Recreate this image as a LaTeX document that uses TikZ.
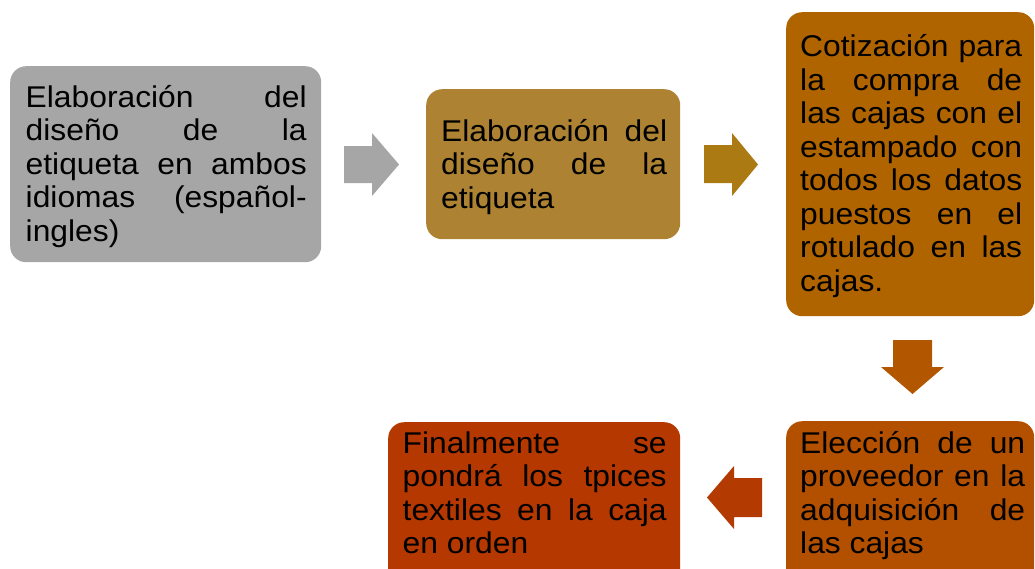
\documentclass[tikz,border=0pt]{standalone}
\usepackage{fontspec}
\setmainfont{Liberation Sans}[FakeStretch=1.06]
\definecolor{cGray}{HTML}{A6A6A6}
\definecolor{cGold}{HTML}{AD8232}
\definecolor{cGoldA}{HTML}{AB7A13}
\definecolor{cOrange}{HTML}{B06400}
\definecolor{cOrangeA}{HTML}{B25600}
\definecolor{cRust}{HTML}{B35000}
\definecolor{cRed}{HTML}{B43800}
\definecolor{cRedA}{HTML}{B33A00}
\hbadness=10000
\hfuzz=5pt
\begin{document}
\begin{tikzpicture}[x=1pt,y=-1pt,
  box/.style={rectangle, rounded corners=16pt, draw=none, inner sep=0pt, anchor=north west},
  txt/.style={inner sep=0pt, anchor=base west, font=\fontsize{30}{33.5}\selectfont}]
\clip (0,0) rectangle (1035,568);
% boxes
\node[box, fill=cGray, minimum width=311pt, minimum height=196pt] (b1) at (10,66) {};
\node[box, fill=cGold, minimum width=254pt, minimum height=150pt] (b2) at (426,89) {};
\node[box, fill=cOrange, minimum width=248pt, minimum height=304pt] (b3) at (786,12) {};
\node[box, fill=cRust, minimum width=248pt, minimum height=200pt] (b4) at (786,421) {};
\node[box, fill=cRed, minimum width=292pt, minimum height=200pt] (b5) at (388,422) {};
% texts
\node[txt] (t1) at (25.5,107.3) {\parbox[t]{281pt}{Elaboración del\linebreak diseño de la\linebreak etiqueta en ambos\linebreak idiomas (español-\linebreak ingles)}};
\node[txt] (t2) at (441,141) {\parbox[t]{226pt}{Elaboración del\linebreak diseño de la\linebreak etiqueta}};
\node[txt] (t3) at (800,56.7) {\parbox[t]{222pt}{Cotización para\linebreak la compra de\linebreak las cajas con el\linebreak estampado con\linebreak todos los datos\linebreak puestos en el\linebreak rotulado en las\linebreak cajas.}};
\node[txt] (t4) at (800,453) {\parbox[t]{225pt}{Elección de un\linebreak proveedor en la\linebreak adquisición de\linebreak las cajas}};
\node[txt] (t5) at (402.5,453) {\parbox[t]{264pt}{Finalmente se\linebreak pondrá los tpices\linebreak textiles en la caja\linebreak en orden}};
% block arrows
\fill[cGray] (344,146) -- (372,146) -- (372,133) -- (399,164.5) -- (372,196) -- (372,183) -- (344,183) -- cycle;
\fill[cGoldA] (704,145) -- (732,145) -- (732,133) -- (758,164.5) -- (732,196) -- (732,183) -- (704,183) -- cycle;
\fill[cOrangeA] (893,340) -- (932,340) -- (932,367) -- (944,367) -- (912.5,394) -- (881,367) -- (893,367) -- cycle;
\fill[cRedA] (762,478) -- (734,478) -- (734,466) -- (707,497.5) -- (734,529) -- (734,517) -- (762,517) -- cycle;
\end{tikzpicture}
\end{document}
